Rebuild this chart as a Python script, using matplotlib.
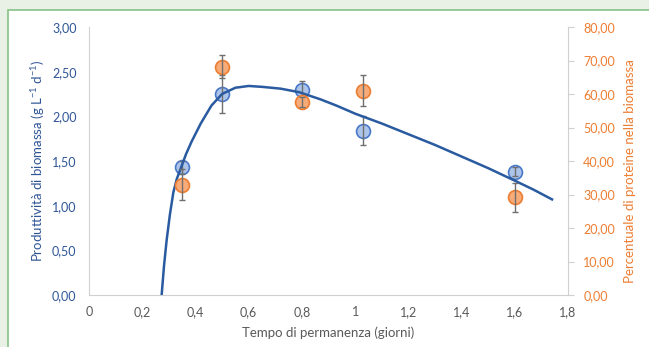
import matplotlib
matplotlib.use("Agg")
import matplotlib.pyplot as plt
from matplotlib.ticker import FuncFormatter, MultipleLocator
from matplotlib.patches import Rectangle

plt.rcParams['font.family'] = ['Lato', 'DejaVu Sans']
plt.rcParams['mathtext.default'] = 'regular'

# Data
tempo = [0.35, 0.50, 0.80, 1.03, 1.60]
produttivita = [1.43, 2.25, 2.30, 1.84, 1.38]
produttivita_err = [0.07, 0.21, 0.10, 0.16, 0.05]
proteine = [32.9, 68.2, 57.7, 61.0, 29.2]
proteine_err = [4.6, 3.5, 1.5, 4.7, 4.3]

curve_x = [0.273, 0.282, 0.292, 0.304, 0.317, 0.330, 0.345, 0.365, 0.386, 0.42, 0.46,
           0.50, 0.55, 0.60, 0.65, 0.72, 0.79, 0.87, 0.93, 1.00, 1.10, 1.20, 1.30, 1.40,
           1.50, 1.60, 1.67, 1.74]
curve_y = [0.00, 0.33, 0.62, 0.90, 1.15, 1.30, 1.42, 1.58, 1.72, 1.92, 2.12,
           2.25, 2.32, 2.34, 2.33, 2.31, 2.27, 2.19, 2.12, 2.03, 1.92, 1.80, 1.68, 1.55,
           1.42, 1.28, 1.18, 1.07]

blue_txt = '#2f5597'
orange = '#ed7d31'
gray_txt = '#595959'
axis_gray = '#d0d0d0'

fig = plt.figure(figsize=(6.49, 3.47), dpi=100)
fig.patch.set_facecolor('#e9f1e6')
panel = Rectangle((8/649, -0.1), 1.2, 1 - 10/347 + 0.1, transform=fig.transFigure,
                  facecolor='white', edgecolor='#86c286', linewidth=1.2, zorder=-10)
fig.patches.append(panel)

ax1 = fig.add_axes([89/649, 1 - 295/347, (568 - 89)/649, (295 - 27)/347])
ax1.set_facecolor('none')
ax2 = ax1.twinx()
ax2.set_facecolor('none')

ax1.set_xlim(0, 1.8)
ax1.set_ylim(0, 3.0)
ax2.set_ylim(0, 80)

comma2 = FuncFormatter(lambda v, p: f"{v:.2f}".replace('.', ','))
commax = FuncFormatter(lambda v, p: "0" if abs(v) < 1e-9 else (f"{v:.1f}".replace('.', ',') if abs(v - round(v)) > 1e-9 else f"{int(round(v))}"))

ax1.xaxis.set_major_locator(MultipleLocator(0.2))
ax1.xaxis.set_major_formatter(commax)
ax1.yaxis.set_major_locator(MultipleLocator(0.5))
ax1.yaxis.set_major_formatter(comma2)
ax2.yaxis.set_major_locator(MultipleLocator(10))
ax2.yaxis.set_major_formatter(comma2)

for ax in (ax1, ax2):
    for s in ax.spines.values():
        s.set_visible(False)
ax1.spines['left'].set_visible(True)
ax1.spines['left'].set_color(axis_gray)
ax1.spines['bottom'].set_visible(True)
ax1.spines['bottom'].set_color(axis_gray)
ax2.spines['right'].set_visible(True)
ax2.spines['right'].set_color(axis_gray)

ax1.tick_params(axis='y', length=0, pad=9, labelsize=9, labelcolor=blue_txt)
ax1.tick_params(axis='x', length=0, pad=8, labelsize=9, labelcolor=gray_txt)
ax2.tick_params(axis='y', length=4, color=axis_gray, pad=7, labelsize=9, labelcolor=orange)

ax1.set_xlabel('Tempo di permanenza (giorni)', fontsize=9.5, color=gray_txt)
ax1.xaxis.set_label_coords(0.499, -0.119)
ax1.set_ylabel('Produttività di biomassa (g L$^{-1}$ d$^{-1}$)', fontsize=9.5, color=blue_txt)
ax1.yaxis.set_label_coords(-0.088, 0.5)
ax2.set_ylabel('Percentuale di proteine nella biomassa', fontsize=9.5, color=orange)
ax2.yaxis.set_label_coords(1.117, 0.463)

ax1.plot(curve_x, curve_y, color='#2a5aa0', linewidth=1.8, zorder=5)
ax1.plot(tempo, produttivita, 'o', markersize=10, markerfacecolor='#adc4ea',
         markeredgecolor='#4a78c8', markeredgewidth=1.2, zorder=3, linestyle='none')
ax1.errorbar(tempo, produttivita, yerr=produttivita_err, fmt='none', ecolor='#6f6f6f',
             elinewidth=1, capsize=2.5, capthick=1, zorder=4)

ax2.plot(tempo, proteine, 'o', markersize=10, markerfacecolor='#f7ab78',
         markeredgecolor=orange, markeredgewidth=1.2, zorder=3, linestyle='none')
ax2.errorbar(tempo, proteine, yerr=proteine_err, fmt='none', ecolor='#6f6f6f',
             elinewidth=1, capsize=2.5, capthick=1, zorder=4)

fig.savefig('out.png', dpi=100, facecolor=fig.get_facecolor())
